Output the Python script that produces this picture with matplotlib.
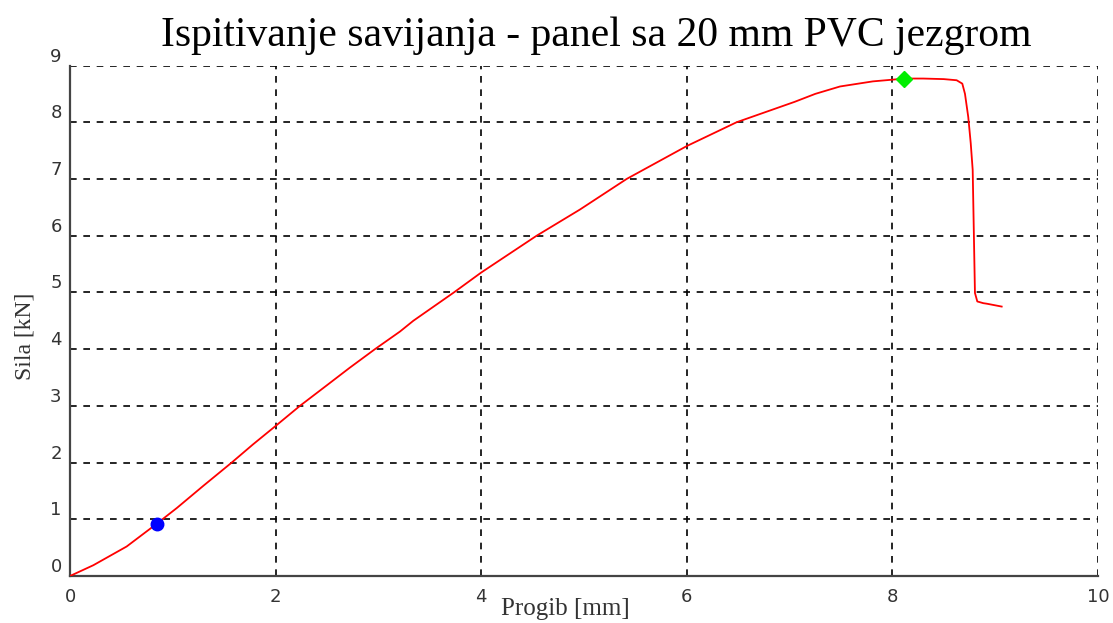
import matplotlib
matplotlib.use("Agg")
import matplotlib.pyplot as plt

# ocitano sa slike
progib = [0, 0.227, 0.551, 0.843, 1.04, 1.297, 1.573, 1.78, 2.01, 2.237, 2.497,
          2.72, 2.967, 3.21, 3.34, 3.735, 4.0, 4.54, 4.96, 5.415, 6.0, 6.485,
          7.05, 7.25, 7.49, 7.81, 8.0, 8.116, 8.3, 8.5, 8.625, 8.68, 8.706, 8.738,
          8.762, 8.781, 8.803, 8.826, 8.884, 8.92, 9.063]
sila = [0, 0.19, 0.52, 0.92, 1.2, 1.59, 2.0, 2.32, 2.66, 3.0, 3.36,
        3.67, 4.0, 4.31, 4.5, 5.0, 5.35, 6.0, 6.46, 7.0, 7.58, 8.0,
        8.36, 8.5, 8.63, 8.72, 8.75, 8.77, 8.77, 8.76, 8.74, 8.68, 8.50, 8.09,
        7.63, 7.16, 4.99, 4.84, 4.81, 4.80, 4.75]
tacka_plava = (0.843, 0.92)
tacka_zelena = (8.116, 8.77)
xticks = [0, 2, 4, 6, 8, 10]
yticks = [0, 1, 2, 3, 4, 5, 6, 7, 8, 9]

fig = plt.figure(figsize=(11.13, 6.23), dpi=100)
ax = fig.add_axes([70 / 1113, 47 / 623, 1028 / 1113, 510.5 / 623])

ax.plot(progib, sila, color="#ff0000", lw=1.3, zorder=3)
ax.plot(*tacka_plava, "o", color="#0000ff", ms=9, zorder=4)
ax.plot(*tacka_zelena, "D", color="#00ee00", ms=8, zorder=4)

ax.set_xlim(0, 10)
ax.set_ylim(0, 9)
ax.set_xticks(xticks)
ax.set_yticks(yticks)
ax.grid(True, color="black", linestyle=(0, (4, 4)), linewidth=1.2)
ax.tick_params(length=0, labelsize=13, labelcolor="#333333")
ax.tick_params(axis="x", pad=9)
ax.tick_params(axis="y", pad=6)
for lab in ax.get_yticklabels():
    lab.set_verticalalignment("bottom")

for s in ["top", "right"]:
    ax.spines[s].set_visible(False)
for s in ["left", "bottom"]:
    ax.spines[s].set_color("#444444")
    ax.spines[s].set_linewidth(1.6)

serif = ["Liberation Serif", "DejaVu Serif"]
ax.set_xlabel("Progib [mm]", family=serif, fontsize=18, color="#333333")
ax.xaxis.set_label_coords(0.4815, -0.043)
ax.set_ylabel("Sila [kN]", family=serif, fontsize=17, color="#333333")
ax.yaxis.set_label_coords(-0.034, 0.47)
fig.text(0.536, 0.926, "Ispitivanje savijanja - panel sa 20 mm PVC jezgrom",
         family=serif, fontsize=30, ha="center", va="baseline", color="black")

fig.savefig("out.png", dpi=100)
